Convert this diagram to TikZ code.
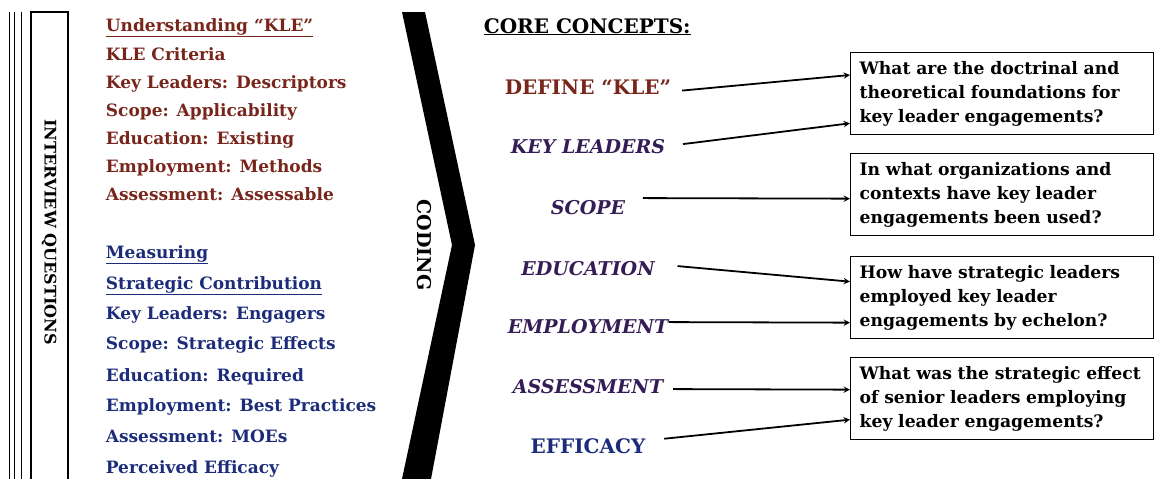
\documentclass[tikz,border=0pt]{standalone}
\usepackage{fontspec}
\setmainfont{DejaVu Serif}
\usetikzlibrary{positioning}
\usepackage{xcolor}
\definecolor{klered}{RGB}{120,38,28}
\definecolor{kleblue}{RGB}{28,44,122}
\definecolor{klepurple}{RGB}{52,28,84}

\begin{document}
\begin{tikzpicture}[x=1pt, y=-1pt, >=stealth, line width=1.8pt,
  lst/.style={anchor=base west, inner sep=0pt, font=\fontsize{17}{20}\selectfont\bfseries},
  redlst/.style={lst, text=klered},
  bluelst/.style={lst, text=kleblue},
  concept/.style={anchor=base, inner sep=0pt, font=\fontsize{20}{22}\selectfont\bfseries},
  iconcept/.style={concept, text=klepurple, font=\fontsize{19}{22}\selectfont\bfseries\itshape},
  question/.style={draw, line width=1.3pt, anchor=north west, minimum width=303pt, minimum height=82pt, text width=285pt, inner xsep=9pt, align=left, font=\fontsize{17.2}{24}\selectfont\bfseries},
  vtitle/.style={rotate=-90, inner sep=0pt}
]
\useasboundingbox (0,0) rectangle (1154,479);

% Interview questions frame
\draw[line width=0.8pt] (9,12) -- (9,479) (14,12) -- (14,479) (21,12) -- (21,479);
\draw[line width=1.3pt] (31,479) -- (31,12) -- (68,12) -- (68,479);
\node[vtitle, font=\fontsize{16}{18}\selectfont\bfseries] (iq) at (49,232) {INTERVIEW QUESTIONS};

% Understanding list
\node[redlst] (u0) at (105,31) {\underline{Understanding ``KLE''}};
\node[redlst] (u1) at (105,60) {KLE Criteria};
\node[redlst] (u2) at (105,88) {Key Leaders: Descriptors};
\node[redlst] (u3) at (105,116) {Scope: Applicability};
\node[redlst] (u4) at (105,144) {Education: Existing};
\node[redlst] (u5) at (105,172) {Employment: Methods};
\node[redlst] (u6) at (105,200) {Assessment: Assessable};

% Measuring list
\node[bluelst] (m0) at (105,258) {\underline{Measuring}};
\node[bluelst] (m1) at (105,289) {\underline{Strategic Contribution}};
\node[bluelst] (m2) at (105,319) {Key Leaders: Engagers};
\node[bluelst] (m3) at (105,349) {Scope: Strategic Effects};
\node[bluelst] (m4) at (105,381) {Education: Required};
\node[bluelst] (m5) at (105,411) {Employment: Best Practices};
\node[bluelst] (m6) at (105,442) {Assessment: MOEs};
\node[bluelst] (m7) at (105,473) {Perceived Efficacy};

% Coding chevron
\fill (402,12) -- (425,12) -- (475,245) -- (431,479) -- (402,479) -- (452,245) -- cycle;
\node[vtitle, font=\fontsize{19}{20}\selectfont\bfseries] (coding) at (424,245) {CODING};

% Core concepts
\node[anchor=base west, inner sep=0pt, font=\fontsize{20}{22}\selectfont\bfseries] (core) at (483,33) {\underline{CORE CONCEPTS:}};

\node[concept, text=klered] (def) at (588,94) {DEFINE ``KLE''};
\node[iconcept] (keyl) at (588,153) {KEY LEADERS};
\node[iconcept] (scope) at (588,214) {SCOPE};
\node[iconcept] (edu) at (588,275) {EDUCATION};
\node[iconcept] (emp) at (588,333) {EMPLOYMENT};
\node[iconcept] (ass) at (588,393) {ASSESSMENT};
\node[concept, text=kleblue] (eff) at (588,453) {EFFICACY};

% Research questions
\node[question] (q1) at (850,52) {What are the doctrinal and\\theoretical foundations for\\key leader engagements?};
\node[question] (q2) at (850,153) {In what organizations and\\contexts have key leader\\engagements been used?};
\node[question] (q3) at (850,256) {How have strategic leaders\\employed key leader\\engagements by echelon?};
\node[question] (q4) at (850,357) {What was the strategic effect\\of senior leaders employing\\key leader engagements?};

% Arrows concepts to questions
\draw[->] ([xshift=10pt, yshift=-4pt]def.east) -- ([yshift=-23pt]q1.north west);
\draw[->] ([xshift=17pt, yshift=2pt]keyl.east) -- ([yshift=12pt]q1.south west);
\draw[->] ([xshift=17pt, yshift=9pt]scope.east) -- ([yshift=-4pt]q2.west);
\draw[->] ([xshift=22pt, yshift=2pt]edu.east) -- ([yshift=16pt]q3.west);
\draw[->] ([xshift=0pt, yshift=4pt]emp.east) -- ([yshift=-25pt]q3.west);
\draw[->] ([xshift=9pt, yshift=-3pt]ass.east) -- ([yshift=9pt]q4.west);
\draw[->] ([xshift=18pt, yshift=7pt]eff.east) -- ([yshift=-21pt]q4.west);

\end{tikzpicture}
\end{document}
